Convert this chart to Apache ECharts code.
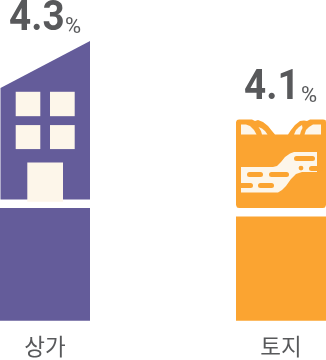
<!DOCTYPE html>
<html><head><meta charset="utf-8">
<style>html,body{margin:0;padding:0;background:#fff}#c{width:326px;height:360px}</style>
<script src="https://cdn.jsdelivr.net/npm/echarts@6/dist/echarts.min.js"></script>
</head><body><div id="c"></div>
<script>
const categories = ['상가', '토지'];
const rates = [4.3, 4.1];
const colors = ['#645c9a', '#fba431'];
const cream = '#fdf6ea';
const textColor = '#58595b';

// Building icon: offsets from the bar's top-centre
function building(x, y) {
  const win = (a, b, w, h) => ({type: 'rect', shape: {x: x + a, y: y + b, width: w, height: h}, style: {fill: cream}});
  return [
    {type: 'polygon', shape: {points: [[x - 44.5, y - 120], [x + 45, y - 167], [x + 45, y - 8.5], [x - 44.5, y - 8.5]]}, style: {fill: colors[0]}},
    win(-29.3, -116.3, 24.6, 24.4), win(5, -116.3, 24.7, 24.4),
    win(-29.3, -83, 24.6, 24), win(5, -83, 24.7, 24),
    win(-17.7, -45.7, 35.7, 39.4)
  ];
}
// Land icon: offsets from the bar's top-centre
function land(x, y) {
  const poly = (pts, fill) => ({type: 'polygon', shape: {points: pts.map(p => [x + p[0], y + p[1]])}, style: {fill}});
  const dash = (a, b, w, h) => ({type: 'rect', shape: {x: x + a, y: y + b, width: w, height: h, r: h / 2}, style: {fill: colors[1]}});
  return [
    poly([[-45, -94.5], [-44, -96.5], [-42, -97], [-29, -97], [-26, -95.5], [-23, -96.5], [-18, -94.5], [-13, -90.5], [-9, -85.5], [-6, -82],
      [7, -82], [10, -86.5], [14, -91.5], [19, -95.5], [23, -96], [26, -95.5], [29, -97], [42, -97], [44.5, -96.5], [45, -94.5],
      [45, -11.5], [44, -9], [42, -8.5], [-42, -8.5], [-44, -9], [-45, -11.5]], colors[1]),
    poly([[-40, -92], [-35, -92], [-31, -90.5], [-27, -86.5], [-24.5, -82], [-40, -82]], cream),
    poly([[-22.5, -89.5], [-19, -88], [-16, -85.5], [-13.5, -82], [-19, -82], [-20, -85.5]], cream),
    poly([[13, -82], [15, -86.5], [18, -89.5], [21, -91.5], [21.5, -88.5], [20, -85.5], [19, -82]], cream),
    poly([[23.5, -82], [25, -86.5], [28, -89.5], [32, -92], [40, -92], [40, -82]], cream),
    poly([[-40, -49.5], [-8, -49.5], [-4, -50.5], [0, -54.5], [4, -59.5], [9, -63], [13, -64.5], [36, -64.5],
      [36, -44.5], [21, -44.5], [15, -42.5], [10, -37.5], [5, -30.5], [1, -26.5], [-3, -24], [-40, -24]], cream),
    dash(-34, -44.5, 16, 5), dash(-12, -44.5, 20, 5), dash(13, -60.5, 21, 5),
    dash(28, -50.5, 14, 5), dash(-43, -33.5, 15, 5), dash(-23, -33.5, 16, 5),
    {type: 'circle', shape: {cx: x + 20, cy: y - 48.5, r: 2.4}, style: {fill: colors[1]}}
  ];
}
const icons = [building, land];
// value label offsets from the bar's top-centre: [digits x, digits y, % x, % y]
const labelPos = [[-36, -189, 20, -181], [-37, -128.5, 20, -120]];

const chart = echarts.init(document.getElementById('c'), null, {renderer: 'canvas'});
chart.setOption({
  animation: false,
  grid: {left: -73, width: 472, top: 0, bottom: 39.3, outerBoundsMode: 'none', containLabel: false},
  xAxis: {
    type: 'category', data: categories,
    axisLine: {show: false}, axisTick: {show: false},
    axisLabel: {color: textColor, fontSize: 22.5, margin: 15, fontFamily: '"Noto Sans CJK KR"', interval: 0}
  },
  yAxis: {type: 'value', min: 1.65, max: 9.196, show: false},
  series: [
    {type: 'bar', data: rates, barWidth: 90, silent: true,
      itemStyle: {color: p => colors[p.dataIndex]}},
    {type: 'custom', data: rates.map((v, i) => [i, v]), clip: false, silent: true,
      renderItem(params, api) {
        const i = params.dataIndex;
        const [x, y] = api.coord([i, api.value(1)]);
        const kids = icons[i](x, y);
        const L = labelPos[i];
        kids.push({type: 'text', x: x + L[0], y: y + L[1], scaleX: 0.92, style: {
          text: String(rates[i]), align: 'left', verticalAlign: 'middle',
          fontFamily: 'Roboto', fontWeight: 700, fontSize: 42, fill: textColor}});
        kids.push({type: 'text', x: x + L[2], y: y + L[3], style: {
          text: '%', align: 'left', verticalAlign: 'middle',
          fontFamily: 'Roboto', fontSize: 22, fill: textColor}});
        return {type: 'group', children: kids};
      }}
  ]
});
</script></body></html>
